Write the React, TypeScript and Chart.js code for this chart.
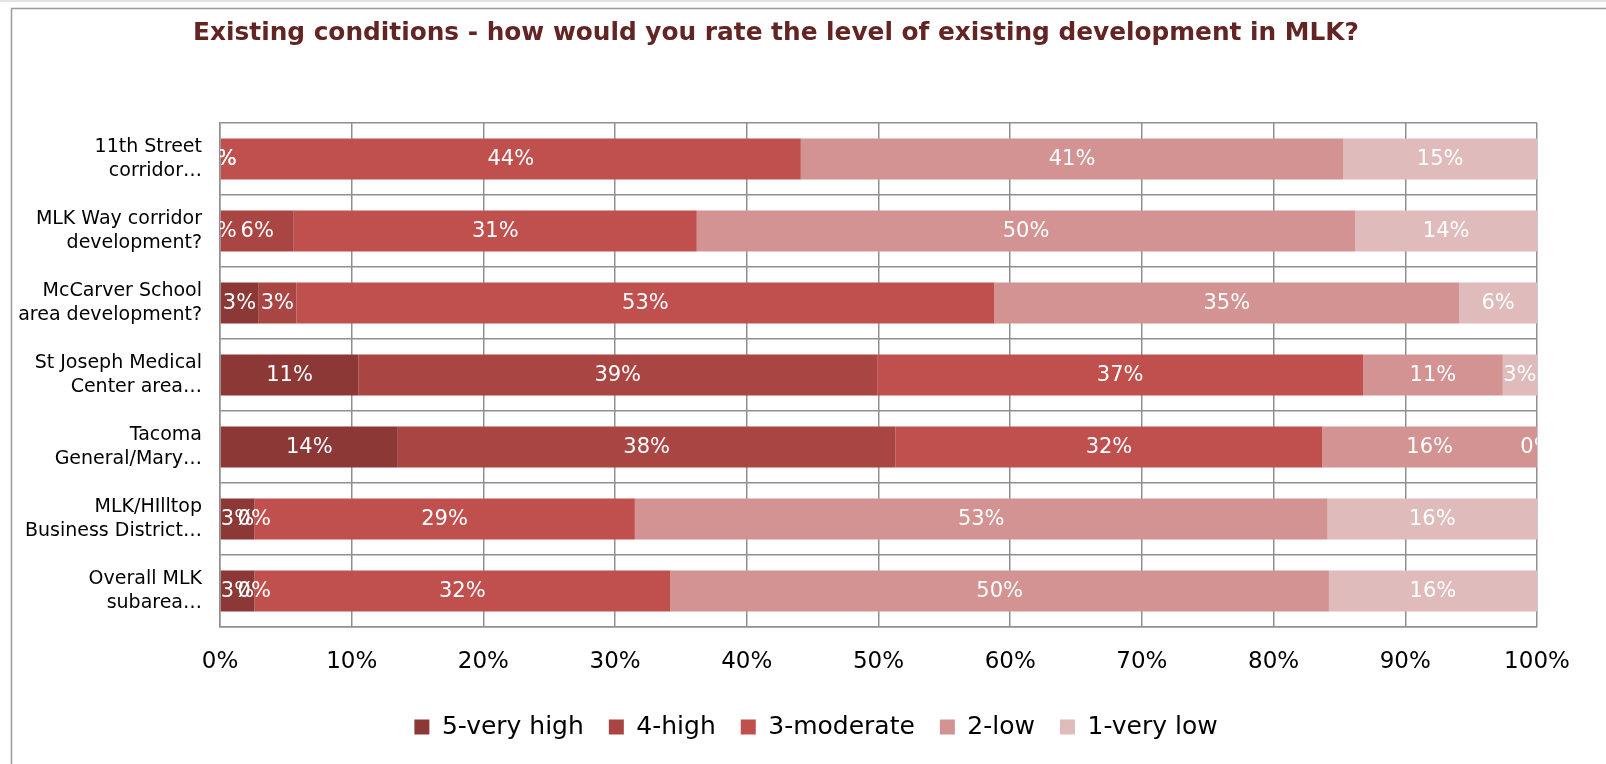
import { useEffect, useRef } from 'react';
import { Chart, registerables } from 'chart.js';

Chart.register(...registerables);

const titleText = 'Existing conditions - how would you rate the level of existing development in MLK?';

const categories: string[][] = [
  ['11th Street', 'corridor…'],
  ['MLK Way corridor', 'development?'],
  ['McCarver School', 'area development?'],
  ['St Joseph Medical', 'Center area…'],
  ['Tacoma', 'General/Mary…'],
  ['MLK/HIlltop', 'Business District…'],
  ['Overall MLK', 'subarea…'],
];

const seriesNames = ['5-very high', '4-high', '3-moderate', '2-low', '1-very low'];

const veryHigh = [0, 0, 2.9, 10.5, 13.5, 2.6, 2.6];
const high = [0, 5.6, 2.9, 39.4, 37.8, 0, 0];
const moderate = [44.1, 30.6, 53.0, 36.9, 32.4, 28.9, 31.6];
const low = [41.2, 50.0, 35.3, 10.6, 16.3, 52.6, 50.0];
const veryLow = [14.7, 13.8, 5.9, 2.6, 0, 15.9, 15.8];

const seriesValues = [veryHigh, high, moderate, low, veryLow];
const seriesColors = ['#8C3836', '#A94542', '#C0504D', '#D29392', '#E0BBBB'];

const xTickValues = [0, 10, 20, 30, 40, 50, 60, 70, 80, 90, 100];

const FONT = '"DejaVu Sans", "Liberation Sans", sans-serif';
const GRID = '#8f8f8f';

export default function App() {
  const ref = useRef<HTMLCanvasElement>(null);

  useEffect(() => {
    document.body.style.margin = '0';
    document.body.style.overflow = 'hidden';
    const canvas = ref.current;
    if (!canvas) return;

    const framePlugin = {
      id: 'frame',
      beforeDraw(chart: any) {
        const ctx = chart.ctx;
        ctx.save();
        ctx.fillStyle = '#ffffff';
        ctx.fillRect(0, 0, chart.width, chart.height);
        ctx.fillStyle = '#e3e3e3';
        ctx.fillRect(0, 0, chart.width, 2);
        ctx.strokeStyle = '#9c9c9c';
        ctx.lineWidth = 1.5;
        ctx.beginPath();
        ctx.moveTo(chart.width, 8.5);
        ctx.lineTo(11.5, 8.5);
        ctx.lineTo(11.5, chart.height);
        ctx.stroke();
        ctx.restore();
      },
    };

    const barLabelPlugin = {
      id: 'barLabels',
      afterDatasetsDraw(chart: any) {
        const ctx = chart.ctx;
        const a = chart.chartArea;
        ctx.save();
        ctx.beginPath();
        ctx.rect(a.left, a.top, a.right - a.left, a.bottom - a.top);
        ctx.clip();
        ctx.font = `21px ${FONT}`;
        ctx.fillStyle = '#ffffff';
        ctx.textAlign = 'center';
        ctx.textBaseline = 'middle';
        chart.data.datasets.forEach((ds: any, i: number) => {
          const meta = chart.getDatasetMeta(i);
          meta.data.forEach((el: any, j: number) => {
            const v = ds.data[j] as number;
            const x = (el.x + el.base) / 2;
            ctx.fillText(`${Math.round(v)}%`, x, el.y + 1);
          });
        });
        ctx.restore();
      },
    };

    const legendShiftPlugin = {
      id: 'legendShift',
      afterUpdate(chart: any) {
        const lg = chart.legend;
        if (lg) {
          lg.left += 40;
          lg.right += 40;
        }
      },
    };

    const chart = new Chart(canvas, {
      type: 'bar',
      data: {
        labels: categories,
        datasets: seriesNames.map((name, i) => ({
          label: name,
          data: seriesValues[i],
          backgroundColor: seriesColors[i],
          borderWidth: 0,
          barPercentage: 0.57,
          categoryPercentage: 1,
        })),
      },
      options: {
        indexAxis: 'y',
        responsive: false,
        animation: false,
        devicePixelRatio: 1,
        layout: { padding: { left: 15, right: 69, top: 0, bottom: 14.5 } },
        scales: {
          x: {
            stacked: true,
            min: 0,
            max: 100,
            afterBuildTicks: (scale: any) => {
              scale.ticks = xTickValues.map((v) => ({ value: v }));
            },
            afterFit: (scale: any) => {
              scale.height = 62.5;
            },
            ticks: {
              callback: (v: any) => `${v}%`,
              font: { family: FONT, size: 23 },
              color: '#000000',
              padding: 21,
            },
            grid: { color: GRID, lineWidth: 1.5, drawTicks: false },
            border: { color: GRID, width: 1.5 },
          },
          y: {
            stacked: true,
            afterFit: (scale: any) => {
              scale.width = 205;
            },
            ticks: {
              font: { family: FONT, size: 19, lineHeight: 1.23 },
              color: '#000000',
              padding: 18,
            },
            grid: { color: GRID, lineWidth: 1.5, drawTicks: false, offset: true },
            border: { color: GRID, width: 1.5 },
          },
        },
        plugins: {
          title: {
            display: true,
            text: titleText,
            color: '#632523',
            font: { family: FONT, size: 24.8, weight: 'bold' },
            padding: { top: 18.2, bottom: 75.0 },
          },
          legend: {
            display: true,
            position: 'bottom',
            labels: {
              font: { family: FONT, size: 25 },
              color: '#000000',
              boxWidth: 15,
              boxHeight: 15,
              padding: 25,
            },
          },
          tooltip: { enabled: false },
        },
      },
      plugins: [framePlugin, barLabelPlugin, legendShiftPlugin],
    } as any);

    return () => chart.destroy();
  }, []);

  return (
    <canvas
      ref={ref}
      width={1606}
      height={764}
      style={{ display: 'block', width: 1606, height: 764 }}
    />
  );
}
